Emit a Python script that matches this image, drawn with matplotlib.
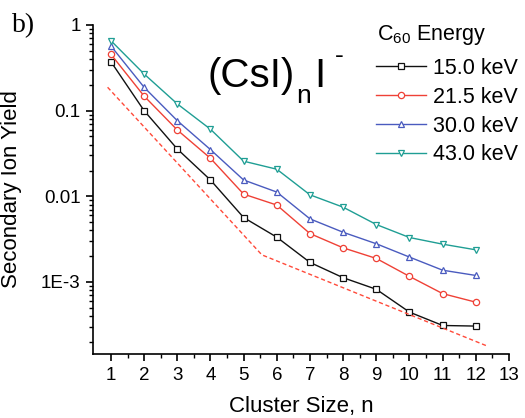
import matplotlib
matplotlib.use('Agg')
import matplotlib.pyplot as plt
from matplotlib.ticker import FixedLocator, FixedFormatter, LogLocator, NullFormatter

plt.rcParams['font.family'] = ['Liberation Sans', 'DejaVu Sans']
plt.rcParams['mathtext.default'] = 'regular'

# cluster size n
n = [1, 2, 3, 4, 5, 6, 7, 8, 9, 10, 11, 12]

# secondary ion yield for each C60 energy
y_15 = [0.373, 0.100, 0.0357, 0.0155, 0.00565, 0.00333, 0.00169, 0.00112, 8.2e-4, 4.44e-4, 3.1e-4, 3.05e-4]
y_21 = [0.455, 0.148, 0.0595, 0.0278, 0.0106, 0.0079, 0.00367, 0.0025, 0.00188, 0.00116, 7.3e-4, 5.8e-4]
y_30 = [0.569, 0.1875, 0.0764, 0.0351, 0.0155, 0.0112, 0.00545, 0.0038, 0.00279, 0.00195, 0.00137, 0.00119]
y_43 = [0.656, 0.268, 0.120, 0.0607, 0.0257, 0.0207, 0.0104, 0.00746, 0.00468, 0.0033, 0.00276, 0.00237]

# dashed guide line
guide_x = [0.9, 5.55, 12.38]
guide_y = [0.1875, 0.00207, 1.76e-4]

labels = ['15.0 keV', '21.5 keV', '30.0 keV', '43.0 keV']
colors = ['#111111', '#ef4136', '#4a5bbf', '#1f9e94']
markers = ['s', 'o', '^', 'v']

fig = plt.figure(figsize=(5.25, 4.18), dpi=100)
ax = fig.add_axes([93 / 525, 64 / 418, 416 / 525, 329 / 418])

for ys, lab, c, m in zip([y_15, y_21, y_30, y_43], labels, colors, markers):
    ax.plot(n, ys, color=c, marker=m, markersize=4.5, markerfacecolor='white',
            markeredgewidth=0.9, linewidth=1.0, label=lab)

ax.plot(guide_x, guide_y, color='#ff4a3a', linewidth=1.0, dashes=(3, 2))

ax.set_yscale('log')
ax.set_xlim(0.46, 13)
ax.set_ylim(1.44e-4, 1)

ax.xaxis.set_major_locator(FixedLocator(range(1, 14)))
ax.xaxis.set_minor_locator(FixedLocator([i + 0.5 for i in range(1, 13)]))
ax.yaxis.set_major_locator(FixedLocator([1, 0.1, 0.01, 0.001]))
ax.yaxis.set_major_formatter(FixedFormatter(['1', '0.1', '0.01', '1E-3']))
ax.yaxis.set_minor_locator(LogLocator(base=10, subs=[2, 3, 4, 5, 6, 7, 8, 9]))
ax.yaxis.set_minor_formatter(NullFormatter())

for side in ['top', 'right']:
    ax.spines[side].set_visible(False)
for side in ['left', 'bottom']:
    ax.spines[side].set_linewidth(1.2)

ax.tick_params(which='major', direction='out', length=5, width=1.2, labelsize=13.5, pad=4)
ax.tick_params(which='minor', direction='out', length=3, width=1.0)

ax.set_xlabel('Cluster Size, n', fontsize=16)
ax.set_ylabel('Secondary Ion Yield', fontsize=16)
ax.xaxis.set_label_coords(0.5, -0.128)
ax.yaxis.set_label_coords(-0.171, 0.5)

# big "(CsI)nI-" label, built from pieces so the subscript sits low like the original
def fx(px):
    return px / 525

def fy(py):
    return 1 - py / 418

fig.text(fx(207), fy(87), '(CsI)', fontsize=29, ha='left', va='baseline')
fig.text(fx(296), fy(103), 'n', fontsize=19, ha='left', va='baseline')
fig.text(fx(314), fy(87), 'I', fontsize=29, ha='left', va='baseline')
fig.text(fx(335), fy(63), '-', fontsize=19, ha='left', va='baseline')

fig.text(fx(12), fy(32), 'b)', fontsize=20, family='Liberation Serif', ha='left', va='baseline')

# legend title drawn as its own text
fig.text(fx(377), fy(35), 'C$_{60}$ Energy', fontsize=15.5, ha='left', va='center')

leg = ax.legend(loc='upper left', bbox_to_anchor=(fx(376), fy(58)),
                bbox_transform=fig.transFigure, frameon=False, fontsize=15.5,
                handlelength=2.3, handletextpad=0.35, labelspacing=0.36, borderpad=0,
                borderaxespad=0)

fig.savefig('out.png', dpi=100)
